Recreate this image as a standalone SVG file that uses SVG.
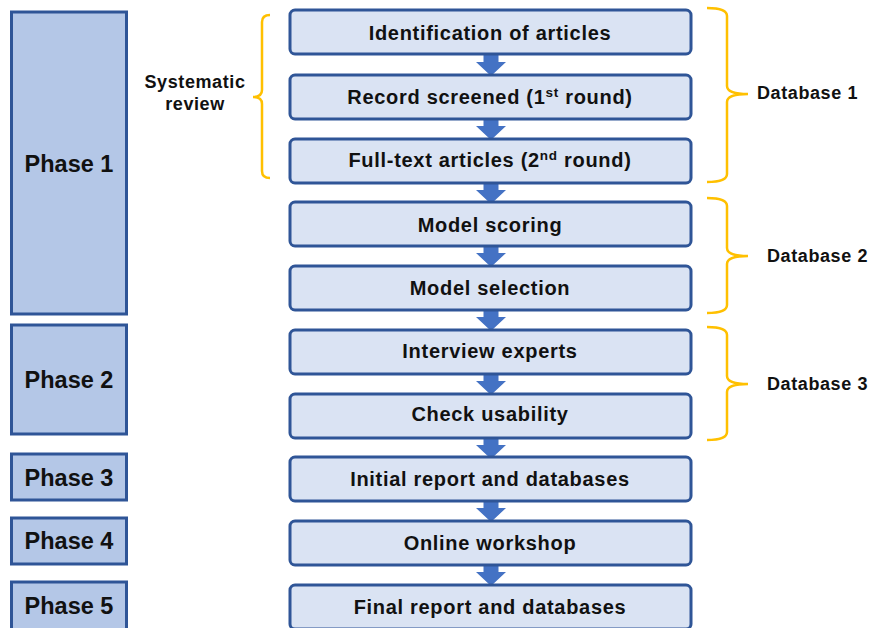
<svg xmlns="http://www.w3.org/2000/svg" width="872" height="628" viewBox="0 0 872 628">
<defs>
<style>
.phase rect{fill:#B4C7E7;stroke:#2F5597;stroke-width:3}
.step rect{fill:#DAE3F3;stroke:#2F5597;stroke-width:3}
text{font-family:"Liberation Sans",Arial,sans-serif;font-weight:bold;fill:#111}
.pt{font-size:23.5px;text-anchor:middle}
.st{font-size:20px;text-anchor:middle;letter-spacing:0.7px}
.lb{font-size:18px;letter-spacing:0.6px}
.brace{fill:none;stroke:#FFC000;stroke-width:2.5}
.arr{fill:#4472C4}
</style>
<path id="ar" class="arr" d="M-7.5 0 H7.5 V8 H15 L0 22 L-15 8 H-7.5 Z"/>
</defs>
<rect width="872" height="628" fill="#fff"/>
<g id="phase1" class="phase"><rect x="11.5" y="12" width="115" height="302"/><text class="pt" x="69" y="172">Phase 1</text></g>
<g id="phase2" class="phase"><rect x="11.5" y="325" width="115" height="109"/><text class="pt" x="69" y="388">Phase 2</text></g>
<g id="phase3" class="phase"><rect x="11.5" y="454" width="115" height="46"/><text class="pt" x="69" y="486">Phase 3</text></g>
<g id="phase4" class="phase"><rect x="11.5" y="518" width="115" height="46"/><text class="pt" x="69" y="549">Phase 4</text></g>
<g id="phase5" class="phase"><rect x="11.5" y="582" width="115" height="50"/><text class="pt" x="69" y="614">Phase 5</text></g>
<g id="connectors">
<use href="#ar" x="491" y="54"/>
<use href="#ar" x="491" y="118"/>
<use href="#ar" x="491" y="182"/>
<use href="#ar" x="491" y="245"/>
<use href="#ar" x="491" y="309"/>
<use href="#ar" x="491" y="373"/>
<use href="#ar" x="491" y="437"/>
<use href="#ar" x="491" y="500"/>
<use href="#ar" x="491" y="564"/>
</g>
<g id="s1" class="step"><rect x="290" y="10" width="401" height="44" rx="5"/><text class="st" x="490" y="40">Identification  of articles</text></g>
<g id="s2" class="step"><rect x="290" y="75" width="401" height="44" rx="5"/><text class="st" x="490" y="103.5">Record screened (1<tspan font-size="13.5" dy="-7">st</tspan><tspan dy="7"> </tspan> round)</text></g>
<g id="s3" class="step"><rect x="290" y="139" width="401" height="44" rx="5"/><text class="st" x="490" y="166.5">Full-text articles (2<tspan font-size="13.5" dy="-7">nd</tspan><tspan dy="7"> round)</tspan></text></g>
<g id="s4" class="step"><rect x="290" y="202" width="401" height="44" rx="5"/><text class="st" x="490" y="231.5">Model scoring</text></g>
<g id="s5" class="step"><rect x="290" y="266" width="401" height="44" rx="5"/><text class="st" x="490" y="295">Model selection</text></g>
<g id="s6" class="step"><rect x="290" y="330" width="401" height="44" rx="5"/><text class="st" x="490" y="357.5">Interview experts</text></g>
<g id="s7" class="step"><rect x="290" y="394" width="401" height="44" rx="5"/><text class="st" x="490" y="421">Check usability</text></g>
<g id="s8" class="step"><rect x="290" y="457" width="401" height="44" rx="5"/><text class="st" x="490" y="485.5">Initial  report and databases</text></g>
<g id="s9" class="step"><rect x="290" y="521" width="401" height="44" rx="5"/><text class="st" x="490" y="549.5">Online workshop</text></g>
<g id="s10" class="step"><rect x="290" y="585" width="401" height="44" rx="5"/><text class="st" x="490" y="613.5">Final report and databases</text></g>
<g id="sysreview">
<path class="brace" d="M270 15 Q262 15 262 22 V90 Q262 97 253 97 Q262 97 262 104 V171 Q262 178 270 178"/>
<text class="lb" text-anchor="middle" x="195" y="88">Systematic</text>
<text class="lb" text-anchor="middle" x="195" y="110">review</text>
</g>
<g id="db1">
<path class="brace" d="M707 8 Q727 8 727 16 V86 Q727 94 748 94 Q727 94 727 102 V174 Q727 182 707 182"/>
<text class="lb" x="757" y="99">Database 1</text>
</g>
<g id="db2">
<path class="brace" d="M707 198 Q727 198 727 206 V248 Q727 256 748 256 Q727 256 727 264 V305 Q727 313 707 313"/>
<text class="lb" x="767" y="262">Database 2</text>
</g>
<g id="db3">
<path class="brace" d="M707 327 Q727 327 727 335 V376 Q727 384 748 384 Q727 384 727 392 V432 Q727 440 707 440"/>
<text class="lb" x="767" y="390">Database 3</text>
</g>
</svg>
